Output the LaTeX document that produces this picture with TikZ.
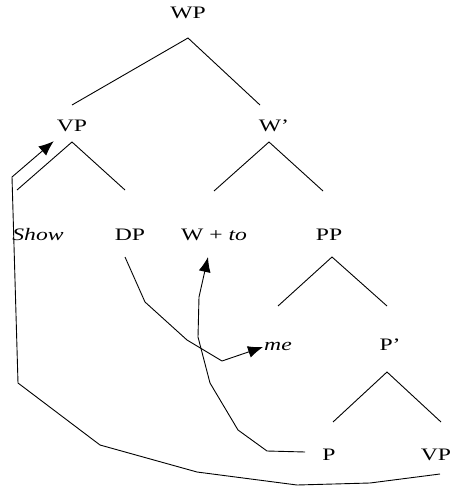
\documentclass[tikz,border=0pt]{standalone}
\usepackage{fontspec}
\setmainfont{Liberation Serif}[FakeStretch=1.35]
\usetikzlibrary{arrows.meta}
\tikzset{
  lbl/.style={anchor=base,inner sep=0pt,text height=12pt,text depth=0pt},
  branch/.style={line width=0.9pt},
  mv/.style={line width=0.9pt,-{Latex[length=15pt,width=12pt]}}
}
\begin{document}
\begin{tikzpicture}[x=1pt,y=-1pt,font=\fontsize{17.5}{21}\selectfont]
    \useasboundingbox (0,0) rectangle (454,487);
    % labels of the tree
    \node[lbl] (wp)   at (188,19)  {WP};
    \node[lbl] (vp)   at (72,131)  {VP};
    \node[lbl] (wbar) at (274,131) {W'};
    \node[lbl] (show) at (38,240)  {\textit{Show}};
    \node[lbl] (dp)   at (130,240) {DP};
    \node[lbl] (wto)  at (214,240) {W + \textit{to}};
    \node[lbl] (pp)   at (329,240) {PP};
    \node[lbl] (me)   at (278,350) {\textit{me}};
    \node[lbl] (pbar) at (390,350) {P'};
    \node[lbl] (p)    at (329,460) {P};
    \node[lbl] (vpb)  at (436,460) {VP};
    % branches
    \draw[branch] ([shift={(-14pt,26pt)}]wbar.base) -- ([yshift=-19pt]wp.base) -- ([yshift=26pt]vp.base);
    \draw[branch] ([shift={(-21pt,50pt)}]show.base) -- ([yshift=-11pt]vp.base) -- ([shift={(-5pt,50pt)}]dp.base);
    \draw[branch] ([yshift=49pt]wto.base) -- ([shift={(-5pt,-11pt)}]wbar.base) -- ([shift={(-6pt,49pt)}]pp.base);
    \draw[branch] ([yshift=44pt]me.base) -- ([shift={(3pt,-17pt)}]pp.base) -- ([shift={(-3pt,44pt)}]pbar.base);
    \draw[branch] ([shift={(4pt,38pt)}]p.base) -- ([shift={(-3pt,-22pt)}]pbar.base) -- ([shift={(5pt,38pt)}]vpb.base);
    % movement arrows
    \draw[mv] ([shift={(4pt,-14pt)}]vpb.base) -- (370,483) -- (297,485) -- (197,472)
        -- (100,445) -- (18,383) -- (12,177) -- ([shift={(-3pt,-10pt)}]vp.south west);
    \draw[mv] ([shift={(-5pt,-17pt)}]dp.base) -- (145,302) -- (187,340) -- (222,361)
        -- ([shift={(-1pt,-3pt)}]me.west);
    \draw[mv] ([shift={(-17pt,2pt)}]p.west) -- (267,451) -- (238,430) -- (210,383)
        -- (198,337) -- (199,297) -- ([shift={(-6pt,-17pt)}]wto.base);
\end{tikzpicture}
\end{document}
